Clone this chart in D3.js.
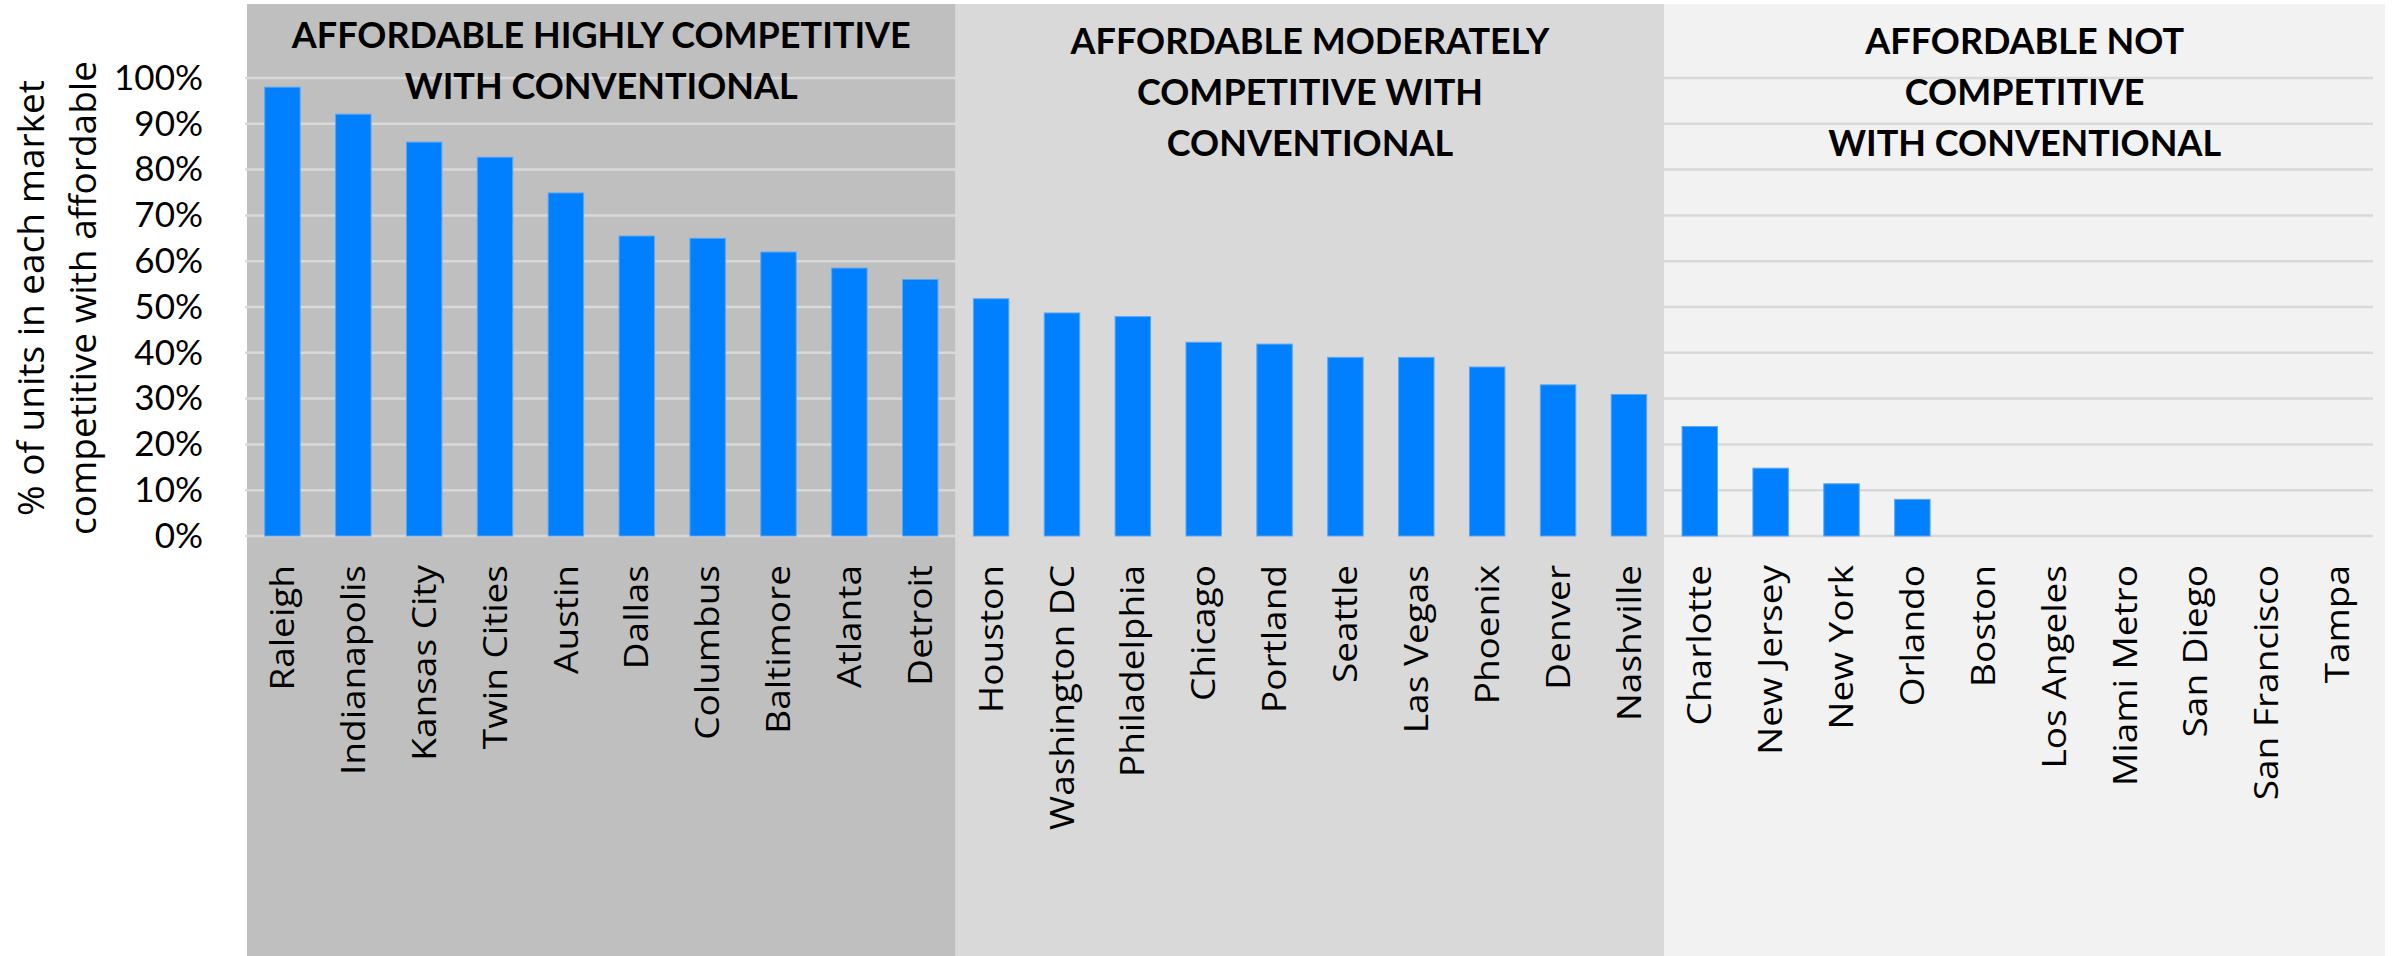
<!DOCTYPE html>
<html>
<head>
<meta charset="utf-8">
<script src="https://cdn.jsdelivr.net/npm/d3@7"></script>
<style>
  html, body { margin: 0; padding: 0; background: #fff; }
  svg { display: block; }
</style>
</head>
<body>
<svg id="chart"></svg>
<script>
// market names, in chart order
const markets = [
  "Raleigh", "Indianapolis", "Kansas City", "Twin Cities", "Austin", "Dallas",
  "Columbus", "Baltimore", "Atlanta", "Detroit",
  "Houston", "Washington DC", "Philadelphia", "Chicago", "Portland", "Seattle",
  "Las Vegas", "Phoenix", "Denver", "Nashville",
  "Charlotte", "New Jersey", "New York", "Orlando", "Boston", "Los Angeles",
  "Miami Metro", "San Diego", "San Francisco", "Tampa"
];

// % of units competitive with affordable
const shares = [
  98, 92.1, 86, 82.7, 74.9, 65.5, 65, 62, 58.5, 56,
  51.8, 48.7, 47.9, 42.3, 41.9, 39, 39, 36.9, 33, 30.9,
  23.9, 14.8, 11.4, 8, 0, 0, 0, 0, 0, 0
];

const yTicks = [0, 10, 20, 30, 40, 50, 60, 70, 80, 90, 100];

// groups: first and last market, heading lines
const groupFirst = ["Raleigh", "Houston", "Charlotte"];
const groupLast = ["Detroit", "Nashville", "Tampa"];
const groupTitles = [
  ["AFFORDABLE HIGHLY COMPETITIVE", "WITH CONVENTIONAL"],
  ["AFFORDABLE MODERATELY", "COMPETITIVE WITH", "CONVENTIONAL"],
  ["AFFORDABLE NOT", "COMPETITIVE", "WITH CONVENTIONAL"]
];
const groupFills = ["#bfbfbf", "#d9d9d9", "#f2f2f2"];

const width = 2394;
const height = 956;

const svg = d3.select("#chart")
  .attr("width", width)
  .attr("height", height);

const x = d3.scaleBand()
  .domain(markets)
  .range([247, 2373])
  .paddingInner(0.5)
  .paddingOuter(0.25);

const y = d3.scaleLinear()
  .domain([0, 100])
  .range([536, 78]);

const pad = x.step() * 0.25;

// background bands
const groups = groupFirst.map((g, i) => ({
  x0: x(g) - pad,
  x1: x(groupLast[i]) + x.bandwidth() + pad + (i === 2 ? 12 : 0),
  fill: groupFills[i],
  title: groupTitles[i]
}));

svg.selectAll(".band")
  .data(groups)
  .enter()
  .append("rect")
  .attr("class", "band")
  .attr("x", d => d.x0)
  .attr("y", 4)
  .attr("width", d => d.x1 - d.x0)
  .attr("height", height - 4)
  .attr("fill", d => d.fill);

// gridlines
svg.append("g")
  .selectAll("line")
  .data(yTicks)
  .enter()
  .append("line")
  .attr("x1", 245)
  .attr("x2", 2373)
  .attr("y1", d => y(d))
  .attr("y2", d => y(d))
  .attr("stroke", "#d9d9d9")
  .attr("stroke-width", 2.5);

// group headings
groups.forEach((g, i) => {
  const top = i === 0 ? 48 : 54;
  svg.append("text")
    .attr("x", (g.x0 + g.x1) / 2)
    .attr("text-anchor", "middle")
    .style("font-family", "Lato, sans-serif")
    .style("font-weight", "bold")
    .style("font-size", "36px")
    .attr("fill", "#000")
    .selectAll("tspan")
    .data(g.title)
    .enter()
    .append("tspan")
    .attr("x", (g.x0 + g.x1) / 2)
    .attr("y", (d, j) => top + j * 51)
    .text(d => d);
});

// bars
svg.selectAll(".bar")
  .data(markets.map((m, i) => ({ m, v: shares[i] })))
  .enter()
  .append("rect")
  .attr("class", "bar")
  .attr("x", d => x(d.m))
  .attr("y", d => y(d.v))
  .attr("width", x.bandwidth())
  .attr("height", d => y(0) - y(d.v))
  .attr("fill", "#0080ff")
  .attr("stroke", d => d.v > 0 ? "#5aa6f2" : "none")
  .attr("stroke-width", 1);

// y axis labels
const yAxis = d3.axisLeft(y)
  .tickValues(yTicks)
  .tickFormat(d => d + "%")
  .tickSize(0)
  .tickPadding(0);

svg.append("g")
  .attr("transform", "translate(203,0)")
  .call(yAxis)
  .call(g => g.select(".domain").remove())
  .call(g => g.selectAll("text")
    .style("font-family", "Lato, sans-serif")
    .style("font-size", "35px")
    .attr("fill", "#000"));

// x axis labels, rotated
const xAxis = d3.axisBottom(x).tickSize(0).tickPadding(0);

svg.append("g")
  .attr("transform", "translate(0,565)")
  .call(xAxis)
  .call(g => g.select(".domain").remove())
  .call(g => g.selectAll("text")
    .attr("transform", "rotate(-90) scale(1,0.9)")
    .attr("text-anchor", "end")
    .attr("x", 0)
    .attr("y", 0)
    .attr("dy", "0.35em")
    .style("font-family", "'Open Sans', sans-serif")
    .style("font-size", "37px")
    .attr("fill", "#000"));

// y axis title
svg.append("text")
  .attr("transform", "translate(0,298) rotate(-90)")
  .attr("text-anchor", "middle")
  .style("font-family", "'Open Sans', sans-serif")
  .style("font-size", "37px")
  .attr("fill", "#000")
  .selectAll("tspan")
  .data(["% of units in each market", "competitive with affordable"])
  .enter()
  .append("tspan")
  .attr("x", 0)
  .attr("y", (d, i) => 44 + i * 52)
  .text(d => d);
</script>
</body>
</html>
